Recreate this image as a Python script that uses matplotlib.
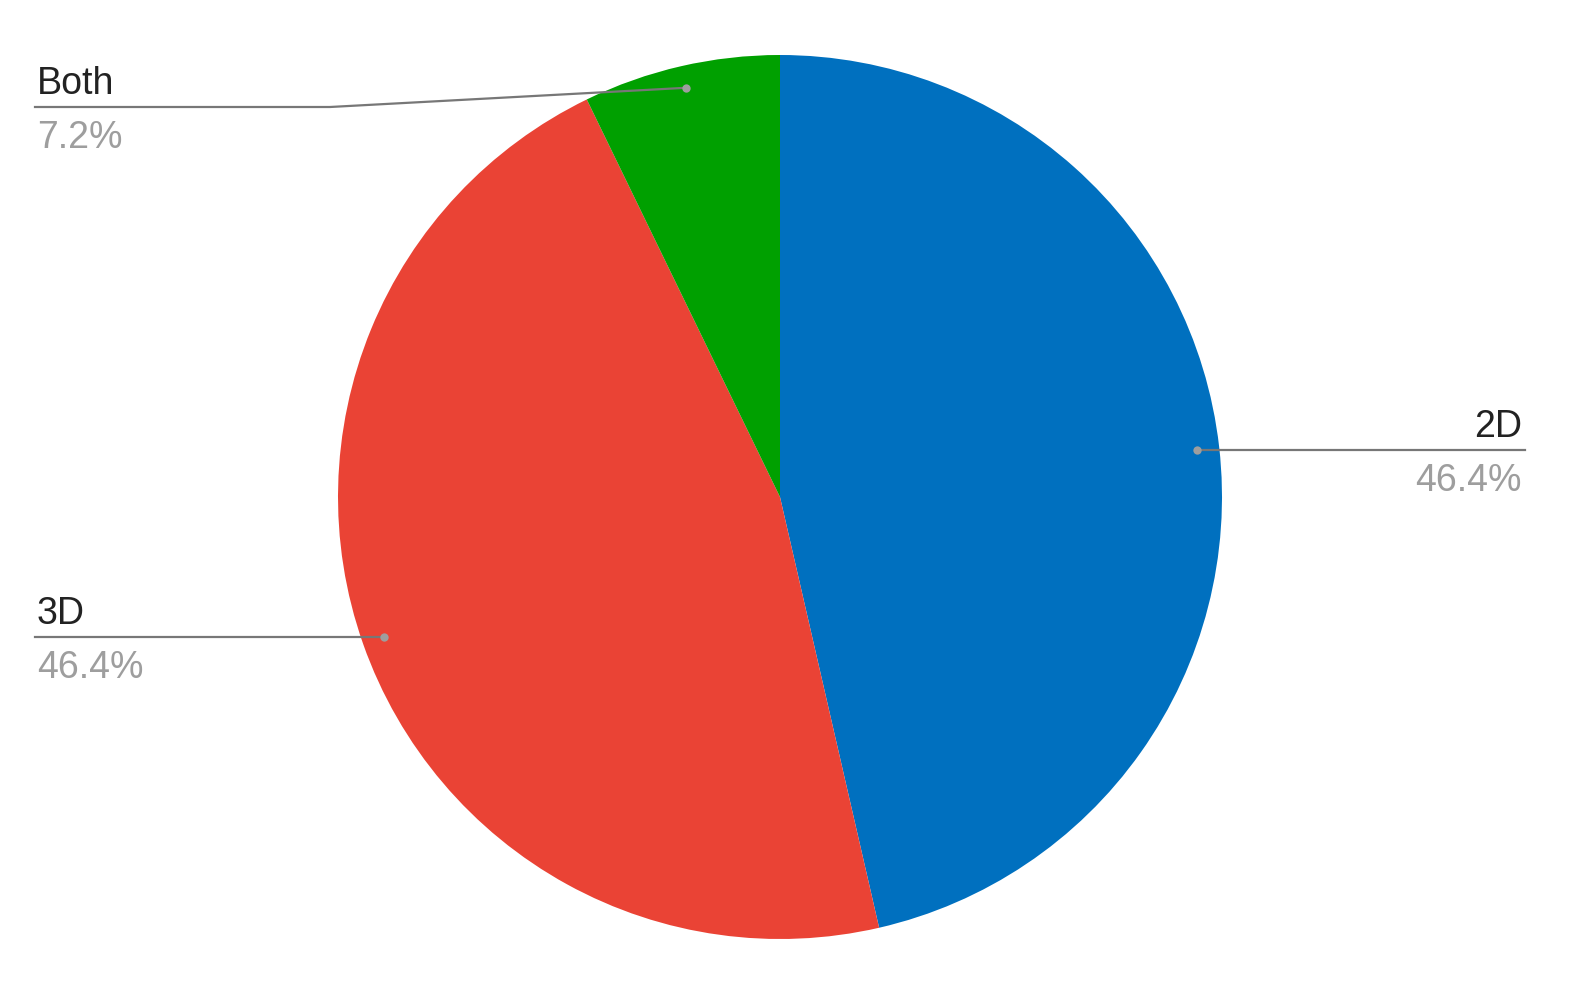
import numpy as np
import matplotlib
matplotlib.use("Agg")
import matplotlib.pyplot as plt

labels = ["2D", "3D", "Both"]
values = [46.4, 46.4, 7.2]
colors = ["#0070bf", "#ea4335", "#00a000"]

# label anchors in pixel space (x of text, y of leader line, side)
label_pos = {
    "2D": (1525, 449, "right"),
    "3D": (35, 636, "left"),
    "Both": (35, 107, "left"),
}

W, H = 1569, 981
fig = plt.figure(figsize=(W / 100, H / 100), dpi=100)
ax = fig.add_axes([0, 0, 1, 1])

cx, cy, r = 780, H - 497, 442
wedges, _ = ax.pie(values, colors=colors, startangle=90, counterclock=False,
                   center=(cx, cy), radius=r, frame=True,
                   wedgeprops=dict(linewidth=0))
ax.set_xlim(0, W)
ax.set_ylim(0, H)
ax.axis("off")

plt.rcParams['font.family'] = ['Liberation Sans', 'DejaVu Sans']
fs = 27
for w, lab, val in zip(wedges, labels, values):
    mid = np.deg2rad((w.theta1 + w.theta2) / 2)
    px = cx + 0.95 * r * np.cos(mid)
    py = cy + 0.95 * r * np.sin(mid)
    tx, ly, side = label_pos[lab]
    if lab == "Both":
        ly = H - ly
        ax.plot([px, 330, tx], [py, ly, ly], color="#777777", lw=1.6,
                zorder=3)
    else:
        # horizontal leader straight out of the dot
        ly = py
        ax.plot([px, tx], [py, ly], color="#777777", lw=1.6, zorder=3)
    ax.plot(px, py, "o", color="#9e9e9e", ms=6, mec="none", zorder=4)
    ha = "right" if side == "right" else "left"
    ttx = tx - 3 if side == "right" else tx + 2
    ax.text(ttx, ly + 13, lab, ha=ha, va="baseline", fontsize=fs,
            color="#222222")
    ax.text(ttx, ly - 41, f"{val}%", ha=ha, va="baseline", fontsize=fs,
            color="#9e9e9e")

fig.savefig("out.png", dpi=100, facecolor="w")
